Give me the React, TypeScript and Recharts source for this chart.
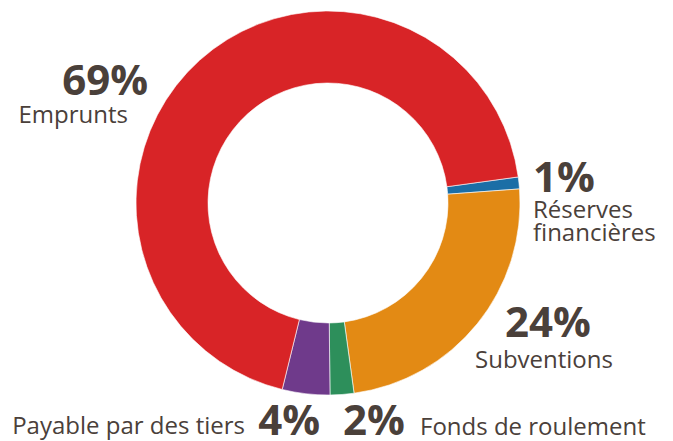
import { PieChart, Pie, Cell } from "recharts";

const categories = [
  "Réserves financières",
  "Subventions",
  "Fonds de roulement",
  "Payable par des tiers",
  "Emprunts",
];
const shares = [1, 24, 2, 4, 69];
const colors = ["#1b6ea6", "#e38a14", "#2d8f5b", "#6f3a8b", "#d82427"];

const data = categories.map((name, i) => ({ name, value: shares[i] }));

const ink = "#4a403a";
const font = "'Open Sans', sans-serif";

// label placement relative to the pie centre, per slice
const labelLayout = [
  { pct: { dx: 205, dy: -11, anchor: "start" }, name: { dx: 205, dy: 15, anchor: "start", lines: ["Réserves", "financières"] } },
  { pct: { dx: 177, dy: 134, anchor: "start" }, name: { dx: 147, dy: 165, anchor: "start", lines: ["Subventions"] } },
  { pct: { dx: 15, dy: 232, anchor: "start" }, name: { dx: 92, dy: 232, anchor: "start", lines: ["Fonds de roulement"] } },
  { pct: { dx: -8, dy: 232, anchor: "end" }, name: { dx: -83, dy: 231, anchor: "end", lines: ["Payable par des tiers"] } },
  { pct: { dx: -180, dy: -108, anchor: "end" }, name: { dx: -200, dy: -80, anchor: "end", lines: ["Emprunts"] } },
];

const renderLabel = (props: any) => {
  const { cx, cy, index, value } = props;
  const l = labelLayout[index];
  return (
    <g>
      <text
        x={cx + l.pct.dx}
        y={cy + l.pct.dy}
        textAnchor={l.pct.anchor}
        fill={ink}
        fontFamily={font}
        fontWeight={700}
        fontSize={42}
      >
        {value}%
      </text>
      {l.name.lines.map((line, j) => (
        <text
          key={j}
          x={cx + l.name.dx}
          y={cy + l.name.dy + j * 23}
          textAnchor={l.name.anchor}
          fill={ink}
          fontFamily={font}
          fontSize={24}
        >
          {line}
        </text>
      ))}
    </g>
  );
};

export default function App() {
  return (
    <div style={{ position: "absolute", left: 0, top: 0, background: "#fff" }}>
      <PieChart width={673} height={441} margin={{ top: 0, right: 0, bottom: 0, left: 0 }}>
        <Pie
          data={data}
          dataKey="value"
          nameKey="name"
          cx={328}
          cy={203}
          innerRadius={120}
          outerRadius={192}
          startAngle={7.8}
          endAngle={-352.2}
          stroke="#ffffff"
          strokeWidth={0.6}
          label={renderLabel}
          labelLine={false}
          isAnimationActive={false}
        >
          {data.map((d, i) => (
            <Cell key={d.name} fill={colors[i]} />
          ))}
        </Pie>
      </PieChart>
    </div>
  );
}
